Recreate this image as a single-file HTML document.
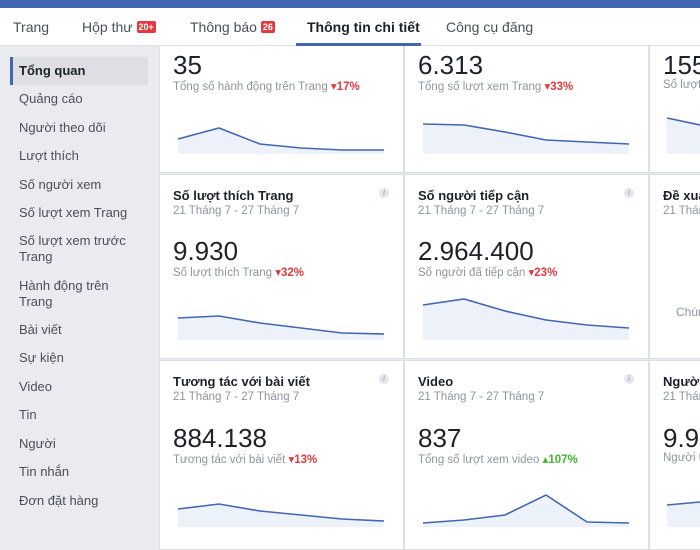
<!DOCTYPE html>
<html><head><meta charset="utf-8"><style>
*{margin:0;padding:0;box-sizing:border-box}
body{width:700px;height:547px;overflow:hidden;background:#e9ebee;font-family:"Liberation Sans","DejaVu Sans",sans-serif;position:relative}
.a{position:absolute;white-space:nowrap}
.top{left:0;top:0;width:700px;height:8px;background:#4267b2}
.tabs{left:0;top:8px;width:700px;height:38px;background:#fff;border-bottom:1px solid #dddfe2}
.tab{top:19px;font-size:14px;color:#4b4f56}
.badge{background:#e0393e;color:#fff;font-size:9px;font-weight:bold;padding:1px 2px;border-radius:2px;vertical-align:2px}
.side{font-size:13px;color:#4b4f56;left:19px;line-height:16px}
.card{background:#fff;border:1px solid #dddfe2}
.big{font-size:26px;color:#1d2129}
.lbl{font-size:11.5px;color:#90949c}
.dn{color:#e0393e;font-weight:bold}
.up{color:#42b72a;font-weight:bold}
.ttl{font-size:13px;font-weight:bold;color:#1d2129}
.dt{font-size:11.5px;color:#90949c}
.i{width:10px;height:10px;border-radius:50%;background:#e4e6eb;color:#8d949e;font-size:8px;font-style:italic;text-align:center;line-height:10px;font-family:"Liberation Serif",serif}
</style></head><body>
<div class="a top"></div>
<div class="a tabs"></div>
<div class="a tab" style="left:13px">Trang</div>
<div class="a tab" style="left:82px">Hộp thư <span class="badge">20+</span></div>
<div class="a tab" style="left:190px">Thông báo <span class="badge">26</span></div>
<div class="a tab" style="left:307px;font-weight:bold;color:#1d2129">Thông tin chi tiết</div>
<div class="a" style="left:296px;top:43px;width:125px;height:3px;background:#4267b2"></div>
<div class="a tab" style="left:446px">Công cụ đăng</div>

<div class="a" style="left:10px;top:57px;width:138px;height:28px;background:#dddfe2"></div>
<div class="a" style="left:10px;top:57px;width:3px;height:28px;background:#4267b2"></div>
<div class="a side" style="top:63px;font-weight:bold;color:#1d2129">Tổng quan</div>
<div class="a side" style="top:91px">Quảng cáo</div>
<div class="a side" style="top:120px">Người theo dõi</div>
<div class="a side" style="top:148px">Lượt thích</div>
<div class="a side" style="top:177px">Số người xem</div>
<div class="a side" style="top:205px">Số lượt xem Trang</div>
<div class="a side" style="top:233px">Số lượt xem trước<br>Trang</div>
<div class="a side" style="top:278px">Hành động trên<br>Trang</div>
<div class="a side" style="top:322px">Bài viết</div>
<div class="a side" style="top:350px">Sự kiện</div>
<div class="a side" style="top:379px">Video</div>
<div class="a side" style="top:407px">Tin</div>
<div class="a side" style="top:436px">Người</div>
<div class="a side" style="top:464px">Tin nhắn</div>
<div class="a side" style="top:493px">Đơn đặt hàng</div>

<div class="a card" style="left:159px;top:46px;width:245px;height:127px;border-top:none"></div>
<div class="a card" style="left:404px;top:46px;width:245px;height:127px;border-top:none"></div>
<div class="a card" style="left:649px;top:46px;width:60px;height:127px;border-top:none"></div>
<div class="a card" style="left:159px;top:174px;width:245px;height:185px"></div>
<div class="a card" style="left:404px;top:174px;width:245px;height:185px"></div>
<div class="a card" style="left:649px;top:174px;width:60px;height:185px"></div>
<div class="a card" style="left:159px;top:360px;width:245px;height:190px"></div>
<div class="a card" style="left:404px;top:360px;width:245px;height:190px"></div>
<div class="a card" style="left:649px;top:360px;width:60px;height:190px"></div>

<div class="a big" style="left:173px;top:50px">35</div>
<div class="a lbl" style="left:173px;top:79px">Tổng số hành động trên Trang <span class="dn">▾17%</span></div>
<div class="a big" style="left:418px;top:50px">6.313</div>
<div class="a lbl" style="left:418px;top:79px">Tổng số lượt xem Trang <span class="dn">▾33%</span></div>
<div class="a big" style="left:663px;top:50px">155</div>
<div class="a lbl" style="left:663px;top:79px">Số lượt</div>

<div class="a ttl" style="left:173px;top:188px">Số lượt thích Trang</div>
<div class="a dt" style="left:173px;top:205px">21 Tháng 7 - 27 Tháng 7</div>
<div class="a i" style="left:379px;top:188px">i</div>
<div class="a big" style="left:173px;top:236px">9.930</div>
<div class="a lbl" style="left:173px;top:265px">Số lượt thích Trang <span class="dn">▾32%</span></div>
<div class="a ttl" style="left:418px;top:188px">Số người tiếp cận</div>
<div class="a dt" style="left:418px;top:205px">21 Tháng 7 - 27 Tháng 7</div>
<div class="a i" style="left:624px;top:188px">i</div>
<div class="a big" style="left:418px;top:236px">2.964.400</div>
<div class="a lbl" style="left:418px;top:265px">Số người đã tiếp cận <span class="dn">▾23%</span></div>
<div class="a ttl" style="left:663px;top:188px">Đề xuất</div>
<div class="a dt" style="left:663px;top:205px">21 Tháng</div>
<div class="a lbl" style="left:676px;top:305px;font-size:12px">Chúng</div>

<div class="a ttl" style="left:173px;top:374px">Tương tác với bài viết</div>
<div class="a dt" style="left:173px;top:391px">21 Tháng 7 - 27 Tháng 7</div>
<div class="a i" style="left:379px;top:374px">i</div>
<div class="a big" style="left:173px;top:423px">884.138</div>
<div class="a lbl" style="left:173px;top:452px">Tương tác với bài viết <span class="dn">▾13%</span></div>
<div class="a ttl" style="left:418px;top:374px">Video</div>
<div class="a dt" style="left:418px;top:391px">21 Tháng 7 - 27 Tháng 7</div>
<div class="a i" style="left:624px;top:374px">i</div>
<div class="a big" style="left:418px;top:423px">837</div>
<div class="a lbl" style="left:418px;top:452px">Tổng số lượt xem video <span class="up">▴107%</span></div>
<div class="a ttl" style="left:663px;top:374px">Người</div>
<div class="a dt" style="left:663px;top:391px">21 Tháng</div>
<div class="a big" style="left:663px;top:423px">9.9</div>
<div class="a lbl" style="left:663px;top:452px">Người t</div>

<svg class="a" style="left:0;top:0" width="700" height="547">
<g fill="#edf1f9" stroke="none">
<polygon points="178,139 219,128 260,144 301,148 342,150 384,150 384,154 178,154"/>
<polygon points="423,124 464,125 505,132 546,140 587,142 629,144 629,154 423,154"/>
<polygon points="667,118 700,125 700,154 667,154"/>
<polygon points="178,318 219,316 260,323 301,328 342,333 384,334 384,340 178,340"/>
<polygon points="423,305 464,299 505,311 546,320 587,325 629,328 629,340 423,340"/>
<polygon points="178,509 219,504 260,511 301,515 342,519 384,521 384,527 178,527"/>
<polygon points="423,523 464,520 505,515 546,495 587,522 629,523 629,527 423,527"/>
<polygon points="667,505 700,502 700,527 667,527"/>
</g>
<g fill="none" stroke="#4267b2" stroke-width="1.6">
<polyline points="178,139 219,128 260,144 301,148 342,150 384,150"/>
<polyline points="423,124 464,125 505,132 546,140 587,142 629,144"/>
<polyline points="667,118 700,125"/>
<polyline points="178,318 219,316 260,323 301,328 342,333 384,334"/>
<polyline points="423,305 464,299 505,311 546,320 587,325 629,328"/>
<polyline points="178,509 219,504 260,511 301,515 342,519 384,521"/>
<polyline points="423,523 464,520 505,515 546,495 587,522 629,523"/>
<polyline points="667,505 700,502"/>
</g>
</svg>
</body></html>
